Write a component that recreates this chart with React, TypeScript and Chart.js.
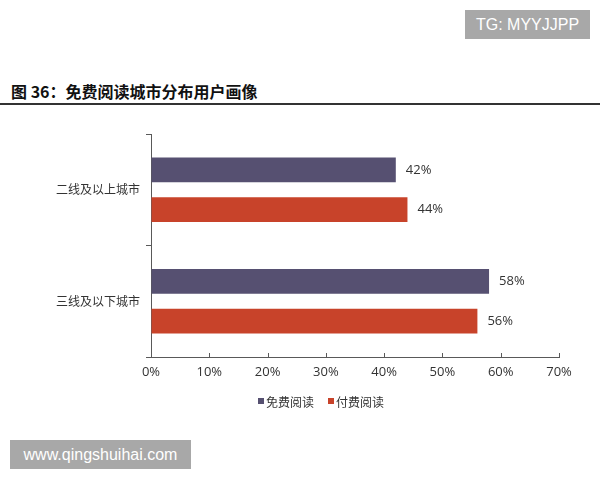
import React, { useEffect, useRef } from "react";
import { Chart, registerables } from "chart.js";

Chart.register(...registerables);

const categories = ["二线及以上城市", "三线及以下城市"];
const seriesNames = ["免费阅读", "付费阅读"];
const freeValues = [42, 58];
const paidValues = [44, 56];
const seriesColors = ["#565071", "#C8432A"];
const xTicks = [0, 10, 20, 30, 40, 50, 60, 70];

const FONT = "'Open Sans', 'Noto Sans CJK SC', sans-serif";
const CJK = "'Noto Sans CJK SC', 'Open Sans', sans-serif";

const valueLabels = {
  id: "valueLabels",
  afterDatasetsDraw(chart: any) {
    const ctx = chart.ctx;
    ctx.save();
    ctx.font = `13px ${FONT}`;
    ctx.fillStyle = "#333";
    ctx.textAlign = "left";
    ctx.textBaseline = "middle";
    chart.data.datasets.forEach((ds: any, i: number) => {
      const meta = chart.getDatasetMeta(i);
      meta.data.forEach((el: any, j: number) => {
        ctx.fillText(`${ds.data[j]}%`, el.x + 10, el.y);
      });
    });
    ctx.restore();
  },
};

const xTickMarks = {
  id: "xTickMarks",
  afterDraw(chart: any) {
    const ctx = chart.ctx;
    const xs = chart.scales.x;
    const bottom = chart.chartArea.bottom;
    ctx.save();
    ctx.strokeStyle = "#595959";
    ctx.lineWidth = 1;
    xs.ticks.forEach((t: any) => {
      const x = Math.round(xs.getPixelForValue(t.value)) + 0.5;
      ctx.beginPath();
      ctx.moveTo(x, bottom);
      ctx.lineTo(x, bottom - 4);
      ctx.stroke();
    });
    ctx.restore();
  },
};

function ChartView() {
  const ref = useRef<HTMLCanvasElement | null>(null);
  useEffect(() => {
    if (!ref.current) return;
    const chart = new Chart(ref.current, {
      type: "bar",
      data: {
        labels: categories,
        datasets: [
          { label: seriesNames[0], data: freeValues, backgroundColor: seriesColors[0] },
          { label: seriesNames[1], data: paidValues, backgroundColor: seriesColors[1] },
        ],
      },
      options: {
        indexAxis: "y",
        responsive: false,
        animation: false,
        layout: { padding: { top: 134, right: 41, bottom: 93, left: 0 } },
        datasets: { bar: { categoryPercentage: 0.714, barPercentage: 0.625 } },
        plugins: { legend: { display: false }, tooltip: { enabled: false } },
        scales: {
          y: {
            type: "category",
            afterFit: (s: any) => { s.width = 151; },
            grid: { display: true, drawOnChartArea: false, drawTicks: true, tickLength: 5, color: "#595959", offset: true },
            border: { display: true, color: "#595959", width: 1 },
            ticks: { font: { size: 12, family: CJK }, color: "#333", padding: 6 },
          },
          x: {
            min: 0,
            max: 70,
            afterFit: (s: any) => { s.height = 30; },
            afterBuildTicks: (s: any) => { s.ticks = xTicks.map((v) => ({ value: v })); },
            grid: { display: true, drawOnChartArea: false, drawTicks: false },
            border: { display: true, color: "#595959", width: 1 },
            ticks: { font: { size: 13, family: FONT }, color: "#333", padding: 7, callback: (v: any) => `${v}%` },
          },
        },
      },
      plugins: [valueLabels, xTickMarks],
    });
    return () => chart.destroy();
  }, []);
  return <canvas ref={ref} width={600} height={480} style={{ position: "absolute", left: 0, top: 0 }} />;
}

export default function App() {
  return (
    <div style={{ position: "absolute", left: 0, top: 0, width: 600, height: 480, background: "#fff", overflow: "hidden" }}>
      <div style={{ position: "absolute", left: 465, top: 10, width: 125, height: 29, background: "#A8A8A8", color: "#fff", font: "16px 'Liberation Sans', Arial, sans-serif", display: "flex", alignItems: "center", justifyContent: "center" }}>
        TG: MYYJJPP
      </div>
      <div style={{ position: "absolute", left: 11, top: 80, font: `bold 16px ${CJK}`, color: "#111", lineHeight: "22px", whiteSpace: "nowrap" }}>
        图 36：免费阅读城市分布用户画像
      </div>
      <div style={{ position: "absolute", left: 0, top: 103, width: 600, height: 2, background: "#333" }} />
      <ChartView />
      <div style={{ position: "absolute", left: 258, top: 393, height: 16, display: "flex", alignItems: "center", font: `12px ${CJK}`, color: "#333", whiteSpace: "nowrap" }}>
        <span style={{ width: 6, height: 6, background: seriesColors[0], marginRight: 2 }} />
        <span>{seriesNames[0]}</span>
        <span style={{ width: 6, height: 6, background: seriesColors[1], marginLeft: 14, marginRight: 2 }} />
        <span>{seriesNames[1]}</span>
      </div>
      <div style={{ position: "absolute", left: 10, top: 440, width: 181, height: 29, background: "#A8A8A8", color: "#fff", font: "16px 'Liberation Sans', Arial, sans-serif", display: "flex", alignItems: "center", justifyContent: "center" }}>
        www.qingshuihai.com
      </div>
    </div>
  );
}
